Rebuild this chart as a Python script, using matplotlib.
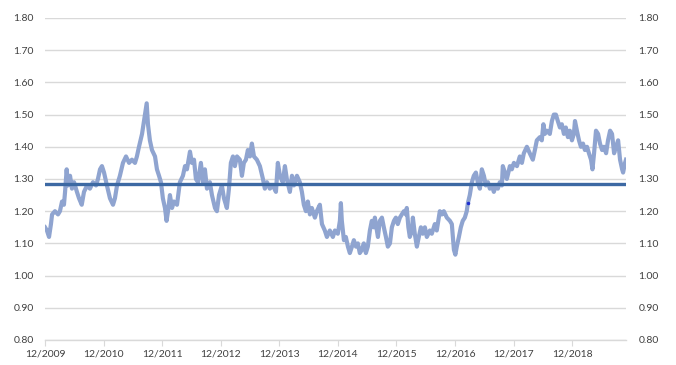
import matplotlib
matplotlib.use("Agg")
import matplotlib.pyplot as plt
import matplotlib.dates as mdates
import pandas as pd

# values
dates = [
    "2009-12-01", "2009-12-13", "2009-12-26", "2010-01-07", "2010-01-14", "2010-02-01", "2010-02-20",
    "2010-03-04", "2010-03-17", "2010-03-29", "2010-04-05", "2010-04-15", "2010-04-23", "2010-05-06",
    "2010-05-18", "2010-05-31", "2010-06-18", "2010-07-01", "2010-07-18", "2010-08-01", "2010-08-20",
    "2010-09-07", "2010-09-26", "2010-10-15", "2010-10-27", "2010-11-09", "2010-11-21", "2010-12-04",
    "2010-12-22", "2011-01-10", "2011-01-29", "2011-02-10", "2011-02-23", "2011-03-13", "2011-04-01",
    "2011-04-20", "2011-05-09", "2011-05-27", "2011-06-15", "2011-06-27", "2011-07-10", "2011-07-29",
    "2011-08-10", "2011-08-19", "2011-08-27", "2011-09-04", "2011-09-16", "2011-09-29", "2011-10-18",
    "2011-10-30", "2011-11-12", "2011-11-24", "2011-12-06", "2011-12-19", "2011-12-29", "2012-01-07",
    "2012-01-19", "2012-02-01", "2012-02-13", "2012-03-03", "2012-03-21", "2012-04-09", "2012-04-22",
    "2012-05-04", "2012-05-23", "2012-06-04", "2012-06-17", "2012-06-29", "2012-07-12", "2012-07-30",
    "2012-08-12", "2012-08-24", "2012-09-06", "2012-09-24", "2012-10-07", "2012-10-26", "2012-11-07",
    "2012-11-20", "2012-12-08", "2012-12-21", "2013-01-08", "2013-01-21", "2013-02-02", "2013-02-15",
    "2013-02-27", "2013-03-12", "2013-03-30", "2013-04-12", "2013-04-24", "2013-05-07", "2013-05-19",
    "2013-06-01", "2013-06-13", "2013-06-26", "2013-07-14", "2013-08-02", "2013-08-21", "2013-09-02",
    "2013-09-15", "2013-10-03", "2013-10-22", "2013-11-10", "2013-11-22", "2013-12-05", "2013-12-23",
    "2014-01-05", "2014-01-17", "2014-02-05", "2014-02-18", "2014-03-02", "2014-03-21", "2014-04-08",
    "2014-04-21", "2014-05-03", "2014-05-16", "2014-05-28", "2014-06-10", "2014-06-22", "2014-07-11",
    "2014-07-23", "2014-08-11", "2014-08-24", "2014-09-11", "2014-09-24", "2014-10-12", "2014-10-31",
    "2014-11-13", "2014-12-01", "2014-12-14", "2014-12-20", "2014-12-26", "2015-01-08", "2015-01-20",
    "2015-02-02", "2015-02-14", "2015-02-27", "2015-03-11", "2015-03-24", "2015-04-05", "2015-04-17",
    "2015-04-30", "2015-05-12", "2015-05-25", "2015-06-06", "2015-06-19", "2015-07-01", "2015-07-14",
    "2015-07-20", "2015-08-02", "2015-08-08", "2015-08-20", "2015-09-02", "2015-09-14", "2015-09-27",
    "2015-10-09", "2015-10-22", "2015-11-03", "2015-11-16", "2015-11-28", "2015-12-10", "2015-12-23",
    "2016-01-04", "2016-01-17", "2016-01-29", "2016-02-04", "2016-02-14", "2016-02-23", "2016-03-07",
    "2016-03-13", "2016-03-25", "2016-04-07", "2016-04-19", "2016-05-02", "2016-05-14", "2016-05-27",
    "2016-06-08", "2016-06-27", "2016-07-09", "2016-07-28", "2016-08-09", "2016-08-28", "2016-09-10",
    "2016-09-22", "2016-10-11", "2016-10-30", "2016-11-11", "2016-11-24", "2016-12-03", "2016-12-12",
    "2016-12-25", "2017-01-06", "2017-01-18", "2017-01-31", "2017-02-12", "2017-02-19", "2017-03-03",
    "2017-03-16", "2017-03-28", "2017-04-10", "2017-04-22", "2017-05-05", "2017-05-17", "2017-05-30",
    "2017-06-11", "2017-06-24", "2017-07-06", "2017-07-19", "2017-07-31", "2017-08-12", "2017-08-25",
    "2017-09-06", "2017-09-19", "2017-09-25", "2017-10-08", "2017-10-20", "2017-11-08", "2017-11-20",
    "2017-12-03", "2017-12-22", "2018-01-09", "2018-01-22", "2018-02-03", "2018-02-22", "2018-03-12",
    "2018-03-31", "2018-04-13", "2018-04-25", "2018-05-14", "2018-05-26", "2018-06-05", "2018-06-14",
    "2018-06-27", "2018-07-15", "2018-07-28", "2018-08-09", "2018-08-22", "2018-09-03", "2018-09-16",
    "2018-09-28", "2018-10-11", "2018-10-23", "2018-11-05", "2018-11-17", "2018-11-30", "2018-12-12",
    "2018-12-19", "2018-12-31", "2019-01-13", "2019-01-25", "2019-02-07", "2019-02-19", "2019-03-04",
    "2019-03-16", "2019-03-29", "2019-04-07", "2019-04-17", "2019-04-29", "2019-05-12", "2019-05-24",
    "2019-06-06", "2019-06-18", "2019-07-01", "2019-07-13", "2019-07-26", "2019-08-07", "2019-08-20",
    "2019-09-01", "2019-09-14", "2019-09-26", "2019-10-09", "2019-10-15", "2019-10-27", "2019-11-02",
]
values = [
    1.15, 1.14, 1.12, 1.16, 1.19, 1.20, 1.19,
    1.20, 1.23, 1.22, 1.26, 1.33, 1.28, 1.31,
    1.27, 1.29, 1.26, 1.24, 1.22, 1.26, 1.28,
    1.27, 1.29, 1.28, 1.30, 1.33, 1.34, 1.32,
    1.28, 1.24, 1.22, 1.24, 1.28, 1.31, 1.35,
    1.37, 1.35, 1.36, 1.35, 1.37, 1.40, 1.44,
    1.48, 1.51, 1.535, 1.47, 1.42, 1.39, 1.37,
    1.33, 1.31, 1.29, 1.24, 1.21, 1.17, 1.20,
    1.25, 1.21, 1.23, 1.22, 1.29, 1.31, 1.34,
    1.33, 1.385, 1.35, 1.36, 1.30, 1.29, 1.35,
    1.29, 1.33, 1.27, 1.29, 1.25, 1.21, 1.20,
    1.25, 1.28, 1.24, 1.21, 1.27, 1.35, 1.37,
    1.34, 1.37, 1.36, 1.31, 1.35, 1.36, 1.39,
    1.37, 1.41, 1.37, 1.36, 1.34, 1.30, 1.27,
    1.29, 1.27, 1.28, 1.26, 1.35, 1.31, 1.29,
    1.34, 1.30, 1.26, 1.31, 1.28, 1.31, 1.29,
    1.26, 1.22, 1.20, 1.23, 1.19, 1.21, 1.18,
    1.20, 1.22, 1.16, 1.14, 1.12, 1.14, 1.12,
    1.14, 1.13, 1.17, 1.225, 1.17, 1.11, 1.12,
    1.09, 1.07, 1.09, 1.11, 1.09, 1.10, 1.07,
    1.08, 1.10, 1.07, 1.09, 1.14, 1.17, 1.15,
    1.18, 1.14, 1.12, 1.17, 1.18, 1.15, 1.12,
    1.09, 1.10, 1.15, 1.17, 1.18, 1.16, 1.18,
    1.19, 1.20, 1.19, 1.21, 1.15, 1.12, 1.14,
    1.18, 1.13, 1.09, 1.12, 1.15, 1.13, 1.15,
    1.12, 1.14, 1.13, 1.16, 1.14, 1.20, 1.19,
    1.20, 1.18, 1.17, 1.16, 1.08, 1.065, 1.09,
    1.12, 1.15, 1.17, 1.18, 1.20, 1.225, 1.25,
    1.29, 1.31, 1.32, 1.29, 1.27, 1.33, 1.31,
    1.28, 1.29, 1.27, 1.28, 1.26, 1.28, 1.27,
    1.29, 1.28, 1.34, 1.32, 1.30, 1.34, 1.33,
    1.35, 1.34, 1.37, 1.35, 1.38, 1.40, 1.38,
    1.36, 1.39, 1.42, 1.43, 1.42, 1.47, 1.44,
    1.45, 1.44, 1.48, 1.50, 1.50, 1.48, 1.46,
    1.47, 1.44, 1.46, 1.43, 1.45, 1.42, 1.44,
    1.48, 1.45, 1.42, 1.40, 1.41, 1.39, 1.40,
    1.38, 1.36, 1.33, 1.38, 1.45, 1.44, 1.41,
    1.39, 1.40, 1.38, 1.42, 1.45, 1.44, 1.38,
    1.40, 1.42, 1.36, 1.33, 1.32, 1.35, 1.36,
]
average = 1.285
marked_date = "2017-02-19"

yticks = [0.80, 0.90, 1.00, 1.10, 1.20, 1.30, 1.40, 1.50, 1.60, 1.70, 1.80]
xtick_dates = ["2009-12-01", "2010-12-01", "2011-12-01", "2012-12-01", "2013-12-01",
               "2014-12-01", "2015-12-01", "2016-12-01", "2017-12-01", "2018-12-01"]

s = pd.Series(values, index=pd.to_datetime(dates))

plt.rcParams['font.family'] = ['Lato', 'DejaVu Sans']
fig = plt.figure(figsize=(6.76, 3.65), dpi=100)
ax = fig.add_axes([0.0666, 0.0685, 0.8594, 0.8822])

ax.plot(s.index, s.values, color='#8fa4d0', linewidth=3.0, solid_joinstyle='round', zorder=3)
ax.axhline(average, color='#3d69a3', linewidth=2.4, zorder=4)
ax.plot(pd.to_datetime(marked_date), s[marked_date], marker='o', markersize=1.5,
        color='#1f2fd0', zorder=5)

ax.set_ylim(0.80, 1.80)
ax.set_xlim(pd.Timestamp(dates[0]), pd.Timestamp(dates[-1]))
ax.set_yticks(yticks)
ax.set_yticklabels([f"{v:.2f}" for v in yticks])
ax.set_xticks(pd.to_datetime(xtick_dates))
ax.xaxis.set_major_formatter(mdates.DateFormatter('%m/%Y'))

ax.grid(axis='y', color='#d9d9d9', linewidth=1.0)
ax.set_axisbelow(True)
for side in ['top', 'right', 'left']:
    ax.spines[side].set_visible(False)
ax.spines['bottom'].set_color('#d9d9d9')
ax.spines['bottom'].set_linewidth(1.0)

ax.tick_params(axis='y', length=0, pad=8, labelsize=7.5, labelcolor='#404040')
ax.tick_params(axis='x', length=4, color='#d9d9d9', pad=3, labelsize=7.5, labelcolor='#404040')

ax2 = ax.twinx()
ax2.set_ylim(0.80, 1.80)
ax2.set_yticks(yticks)
ax2.set_yticklabels([f"{v:.2f}" for v in yticks])
ax2.tick_params(axis='y', length=0, pad=9, labelsize=7.5, labelcolor='#404040')
for side in ['top', 'right', 'left', 'bottom']:
    ax2.spines[side].set_visible(False)

fig.savefig("out.png", dpi=100)
